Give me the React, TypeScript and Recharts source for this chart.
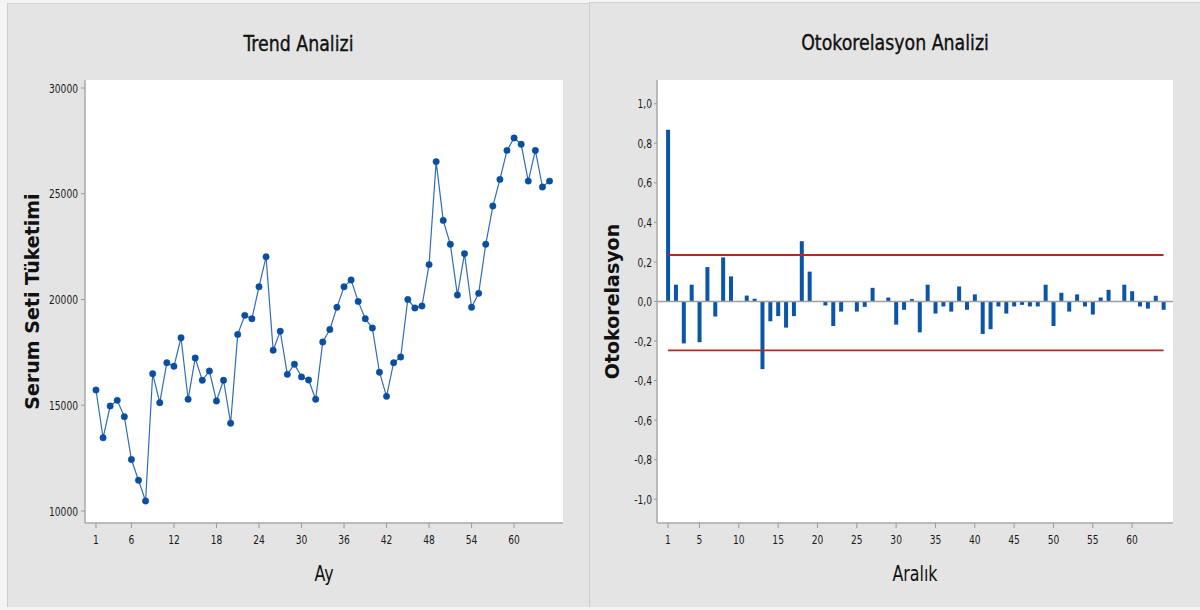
import React from 'react'
import {
  ComposedChart, Line, Bar, XAxis, YAxis, ReferenceLine, CartesianGrid,
} from 'recharts'

// Trend Analizi: monthly consumption (Ay 1..65)
const trendValues = [
  15720, 13460, 14960, 15230, 14460, 12430, 11450, 10470, 16490, 15120,
  17010, 16840, 18190, 15280, 17230, 16180, 16620, 15200, 16180, 14150,
  18350, 19250, 19090, 20600, 22020, 17600, 18500, 16460, 16940, 16340,
  16190, 15280, 17990, 18580, 19630, 20600, 20920, 19910, 19090, 18650,
  16560, 15420, 17010, 17280, 20000, 19600, 19690, 21650, 26520, 23740,
  22610, 20210, 22170, 19630, 20290, 22610, 24420, 25680, 27050, 27640,
  27340, 25600, 27050, 25320, 25600,
]
const trendXTicks = [1, 6, 12, 18, 24, 30, 36, 42, 48, 54, 60]
const trendYTicks = [10000, 15000, 20000, 25000, 30000]

// Otokorelasyon Analizi: ACF per lag (Aralık 1..64)
const acfValues = [
  0.868, 0.085, -0.212, 0.085, -0.206, 0.174, -0.076, 0.223, 0.127, 0.003,
  0.030, 0.014, -0.342, -0.100, -0.074, -0.132, -0.074, 0.305, 0.151, 0.000,
  -0.020, -0.124, -0.051, 0.000, -0.051, -0.027, 0.069, 0.000, 0.020, -0.117,
  -0.042, 0.012, -0.156, 0.085, -0.061, -0.025, -0.051, 0.076, -0.042, 0.036,
  -0.164, -0.140, -0.025, -0.061, -0.025, -0.017, -0.025, -0.025, 0.085, -0.124,
  0.044, -0.051, 0.036, -0.025, -0.066, 0.020, 0.059, 0.003, 0.085, 0.052,
  -0.025, -0.036, 0.029, -0.042,
]
const acfUpper = 0.235
const acfLower = -0.247
const acfXTicks = [1, 5, 10, 15, 20, 25, 30, 35, 40, 45, 50, 55, 60]
const acfYTicks = [-1, -0.8, -0.6, -0.4, -0.2, 0, 0.2, 0.4, 0.6, 0.8, 1]

const trendData = trendValues.map((v, i) => ({ x: i + 1, y: v }))
const acfData = acfValues.map((v, i) => ({ x: i + 1, y: v }))

const NARROW = "'DejaVu Sans Condensed', 'DejaVu Sans', sans-serif"
const BOLD = "'DejaVu Sans', sans-serif"
const FRAME = '#a8a8a8'
const PANEL_BG = '#e4e4e4'

const fmtComma = (v: number) => (Math.abs(v) < 1e-9 ? '0,0' : v.toFixed(1).replace('.', ','))

// squeezed tick text, the original uses a narrow font
const narrowTick = (axis: 'x' | 'y', fmt?: (v: number) => string) => (props: any) => {
  const { x, y, payload } = props
  const label = fmt ? fmt(payload.value) : String(payload.value)
  return (
    <g transform={`translate(${x} ${y}) scale(0.78 1)`}>
      <text x={0} y={0} dy={axis === 'x' ? '0.71em' : '0.355em'}
        textAnchor={axis === 'x' ? 'middle' : 'end'}
        fontSize={13} fontFamily={NARROW} fill="#1a1a1a">
        {label}
      </text>
    </g>
  )
}

// axis title under the plot, centred on it
const xTitle = (text: string, dy: number) => (props: any) => {
  const { x, y, width } = props.viewBox
  return (
    <g transform={`translate(${x + width / 2} ${y + dy}) scale(0.84 1)`}>
      <text x={0} y={0} textAnchor="middle" dominantBaseline="middle"
        fontSize={21} fontFamily={NARROW} fill="#111">
        {text}
      </text>
    </g>
  )
}

// rotated axis title left of the plot
const yTitle = (text: string, fromPlot: number) => (props: any) => {
  const { x, y, width, height } = props.viewBox
  const cx = x + width - fromPlot
  const cy = y + height / 2
  return (
    <text x={cx} y={cy} textAnchor="middle" dominantBaseline="middle"
      transform={`rotate(-90 ${cx} ${cy})`}
      fontSize={19} fontWeight="bold" fontFamily={BOLD} fill="#111">
      {text}
    </text>
  )
}

function Panel({ left, top, width, height, title, children }: any) {
  return (
    <div style={{
      position: 'absolute', left, top, width, height, background: PANEL_BG,
      borderLeft: '1px solid #cdcdcd', borderTop: '1px solid #d4d4d4',
      boxSizing: 'border-box',
    }}>
      <div style={{
        position: 'absolute', left: 0, top: 27, width: '100%', textAlign: 'center',
        fontFamily: NARROW, fontSize: 21, lineHeight: '26px', color: '#111',
        transform: 'scaleX(0.92)', transformOrigin: 'center',
        WebkitTextStroke: '0.35px #111',
      }}>{title}</div>
      {children}
    </div>
  )
}

function TrendChart() {
  return (
    <ComposedChart width={582} height={604} data={trendData}
      margin={{ top: 76, right: 27, bottom: 25, left: 17 }}>
      <CartesianGrid horizontal={false} vertical={false} fill="#ffffff" fillOpacity={1} />
      <XAxis dataKey="x" type="number" domain={[-0.55, 66.9]} allowDataOverflow
        ticks={trendXTicks} interval={0} tick={narrowTick('x')} tickSize={5} tickMargin={7}
        height={60} axisLine={{ stroke: FRAME, strokeWidth: 1.5 }} tickLine={{ stroke: '#999' }}
        label={{ content: xTitle('Ay', 52) }} />
      <XAxis xAxisId="top" orientation="top" type="number" domain={[-0.55, 66.9]}
        allowDataOverflow height={0} tick={false} tickLine={false}
        axisLine={{ stroke: FRAME, strokeWidth: 1.5 }} />
      <YAxis type="number" domain={[9430, 30380]} allowDataOverflow ticks={trendYTicks}
        interval={0} tick={narrowTick('y')} tickSize={4} tickMargin={3} width={60}
        axisLine={{ stroke: FRAME, strokeWidth: 1.5 }} tickLine={{ stroke: '#999' }}
        label={{ content: yTitle('Serum Seti Tüketimi', 52) }} />
      <YAxis yAxisId="right" orientation="right" type="number" domain={[9430, 30380]}
        width={0} tick={false} tickLine={false} axisLine={{ stroke: FRAME, strokeWidth: 1.5 }} />
      <Line dataKey="y" type="linear" stroke="#2f6db6" strokeWidth={1.2}
        dot={{ r: 3.2, fill: '#0a4f9f', stroke: '#0a4f9f', strokeWidth: 0.5 }}
        isAnimationActive={false} />
    </ComposedChart>
  )
}

function AcfChart() {
  return (
    <ComposedChart width={610} height={605} data={acfData}
      margin={{ top: 77, right: 27, bottom: 25, left: 7 }}>
      <CartesianGrid horizontal={false} vertical={false} fill="#ffffff" fillOpacity={1} />
      <XAxis dataKey="x" type="number" domain={[-0.4, 65.2]} allowDataOverflow
        ticks={acfXTicks} interval={0} tick={narrowTick('x')} tickSize={5} tickMargin={7}
        height={60} axisLine={{ stroke: FRAME, strokeWidth: 1.5 }} tickLine={{ stroke: '#999' }}
        label={{ content: xTitle('Aralık', 52) }} />
      <XAxis xAxisId="top" orientation="top" type="number" domain={[-0.4, 65.2]}
        allowDataOverflow height={0} tick={false} tickLine={false}
        axisLine={{ stroke: FRAME, strokeWidth: 1.5 }} />
      <YAxis type="number" domain={[-1.12, 1.12]} allowDataOverflow ticks={acfYTicks}
        interval={0} tick={narrowTick('y', fmtComma)} tickSize={3} tickMargin={2}
        width={60} axisLine={{ stroke: FRAME, strokeWidth: 1.5 }} tickLine={{ stroke: '#999' }}
        label={{ content: yTitle('Otokorelasyon', 44) }} />
      <YAxis yAxisId="right" orientation="right" type="number" domain={[-1.12, 1.12]}
        width={0} tick={false} tickLine={false} axisLine={{ stroke: FRAME, strokeWidth: 1.5 }} />
      <ReferenceLine y={0} stroke="#a0a0a0" strokeWidth={1.5} />
      <Bar dataKey="y" fill="#0a55a7" barSize={4} isAnimationActive={false} />
      <ReferenceLine segment={[{ x: 1, y: acfUpper }, { x: 64, y: acfUpper }]}
        stroke="#b02a2a" strokeWidth={1.8} />
      <ReferenceLine segment={[{ x: 1, y: acfLower }, { x: 64, y: acfLower }]}
        stroke="#b02a2a" strokeWidth={1.8} />
    </ComposedChart>
  )
}

export default function App() {
  return (
    <div style={{
      position: 'absolute', left: 0, top: 0, width: 1200, height: 610,
      background: '#f4f4f4', overflow: 'hidden',
    }}>
      <Panel left={7} top={3} width={582} height={604} title="Trend Analizi">
        <div style={{ position: 'absolute', left: 0, top: 0 }}>
          <TrendChart />
        </div>
      </Panel>
      <Panel left={589} top={2} width={611} height={605} title="Otokorelasyon Analizi">
        <div style={{ position: 'absolute', left: 0, top: 0 }}>
          <AcfChart />
        </div>
      </Panel>
    </div>
  )
}
